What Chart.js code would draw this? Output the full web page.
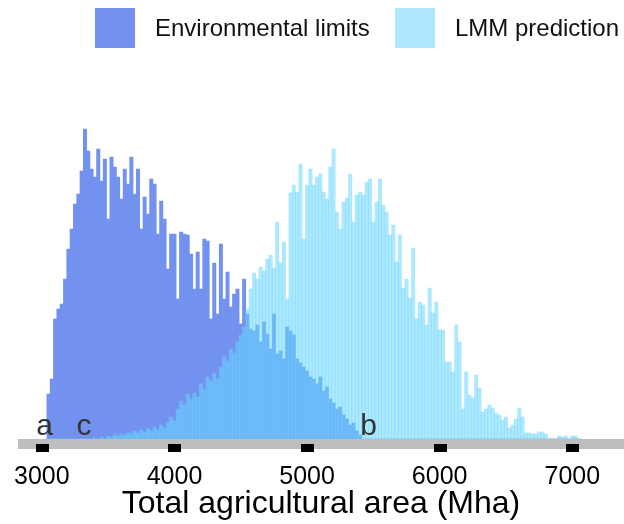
<!DOCTYPE html>
<html>
<head>
<meta charset="utf-8">
<title>Total agricultural area</title>
<script src="https://cdn.jsdelivr.net/npm/chart.js@4.4.1/dist/chart.umd.min.js"></script>
<style>
  html, body { margin: 0; padding: 0; background: #fff; }
  #wrap { position: relative; width: 624px; height: 524px; font-family: 'Liberation Sans', Arial, sans-serif; }
  #area-chart { position: absolute; left: 0; top: 0; }
  .key { position: absolute; top: 8px; width: 40px; height: 40px; }
  .key-label { position: absolute; top: 8px; line-height: 40px; font-size: 24px; color: #111; white-space: nowrap; }
</style>
</head>
<body>
<div id="wrap">
  <canvas id="area-chart" width="624" height="524"></canvas>
  <div id="legend"></div>
</div>
<script>
/*
 * Histogram bins are 25 Mha wide, the first one centred on 3050 Mha
 */
const binStart = 3050
const binWidth = 25

// bar heights, one per bin
const envLimits = [
  45, 60, 120, 130, 135, 160, 190, 210, 235, 245,
  268, 310, 288, 270, 262, 290, 258, 280, 220, 282,
  272, 262, 240, 270, 255, 282, 245, 270, 210, 242,
  225, 260, 255, 205, 238, 220, 170, 205, 205, 140,
  207, 205, 204, 185, 150, 187, 150, 200, 198, 120,
  176, 125, 195, 140, 167, 132, 145, 150, 115, 160,
  125, 110, 108, 114, 97, 117, 105, 90, 125, 85,
  88, 80, 112, 108, 104, 80, 76, 72, 68, 62,
  60, 55, 62, 48, 52, 40, 36, 30, 32, 24,
  20, 14, 16, 8, 4, 0, 0, 0, 0, 0,
  0, 0, 0, 0, 0, 0, 0, 0, 0, 0,
  0, 0, 0, 0, 0, 0, 0, 0, 0, 0,
  0, 0, 0, 0, 0, 0, 0, 0, 0, 0,
  0, 0, 0, 0, 0, 0, 0, 0, 0, 0,
  0, 0, 0, 0, 0, 0, 0, 0, 0, 0,
  0, 0, 0, 0, 0, 0, 0, 0, 0, 0,
  0
]

const lmmPrediction = [
  0, 0, 0, 0, 0, 0, 0, 0, 0, 0,
  0, 0, 0, 0, 1, 0, 2, 0, 3, 2,
  4, 3, 5, 4, 6, 5, 8, 6, 9, 7,
  10, 8, 12, 9, 14, 11, 16, 22, 18, 30,
  38, 34, 45, 40, 46, 42, 55, 50, 62, 58,
  66, 60, 72, 82, 78, 90, 86, 97, 104, 112,
  130, 150, 166, 160, 172, 168, 180, 184, 171, 217,
  176, 197, 140, 246, 254, 247, 275, 200, 254, 270,
  254, 262, 265, 247, 240, 272, 290, 227, 210, 237,
  241, 265, 217, 244, 247, 244, 257, 260, 217, 237,
  260, 234, 227, 204, 214, 177, 204, 151, 160, 141,
  191, 120, 137, 134, 114, 151, 126, 137, 109, 109,
  77, 77, 67, 114, 97, 30, 67, 44, 41, 64,
  51, 27, 30, 34, 31, 26, 24, 19, 22, 11,
  14, 20, 31, 22, 6, 6, 5, 5, 7, 7,
  5, 0, 0, 0, 3, 2, 3, 0, 3, 3,
  0
]

const tickValues = [3000, 4000, 5000, 6000, 7000]

// letters written just above the axis
const markers = ['a', 'c', 'b']
const markerValues = [3020, 3317, 5464]

const fontFamily = "'Liberation Sans', Arial, sans-serif"

const toPoints = values => values.map((v, i) => ({ x: binStart + i * binWidth, y: v }))

/**
 * Grey axis band, black tick blocks and the a/b/c letters
 **/
const axisBand = {
  id: 'axisBand',
  afterDatasetsDraw(chart) {
    const { ctx, chartArea, scales } = chart
    const x = scales.x
    ctx.save()
    ctx.fillStyle = '#bebebe'
    ctx.fillRect(chartArea.left, chartArea.bottom, chartArea.right - chartArea.left, 10)
    ctx.fillStyle = '#000'
    tickValues.forEach(v => {
      const px = Math.round(x.getPixelForValue(v))
      ctx.fillRect(px - 6, chartArea.bottom + 5, 13, 8)
    })
    ctx.fillStyle = '#333'
    ctx.font = '30px ' + fontFamily
    ctx.textAlign = 'center'
    ctx.textBaseline = 'alphabetic'
    markers.forEach((m, i) => {
      ctx.fillText(m, x.getPixelForValue(markerValues[i]), chartArea.bottom - 4)
    })
    ctx.restore()
  }
}

const areaCtx = document.getElementById('area-chart').getContext('2d')

const areaChart = new Chart(areaCtx, {
  type: 'bar',
  data: {
    datasets: [{
      label: 'Environmental limits',
      data: toPoints(envLimits),
      backgroundColor: '#7392f0',
      legendColor: '#7392f0',
      order: 2,
      grouped: false,
      barPercentage: 1,
      categoryPercentage: 1
    }, {
      label: 'LMM prediction',
      data: toPoints(lmmPrediction),
      backgroundColor: 'rgba(104, 213, 255, 0.55)',
      legendColor: '#ace8ff',
      order: 1,
      grouped: false,
      barPercentage: 1,
      categoryPercentage: 1
    }]
  },
  options: {
    responsive: false,
    animation: false,
    layout: {
      padding: { top: 60, left: 18, right: 0, bottom: 0 }
    },
    plugins: {
      legend: { display: false },
      tooltip: { enabled: false }
    },
    scales: {
      x: {
        type: 'linear',
        min: 2820,
        max: 7390,
        offset: false,
        grid: { display: false },
        border: { display: false },
        afterBuildTicks: scale => {
          scale.ticks = tickValues.map(v => ({ value: v }))
        },
        afterFit: scale => {
          scale.height = 85
          scale.paddingLeft = 0
          scale.paddingRight = 0
        },
        ticks: {
          color: '#000',
          padding: 15,
          maxRotation: 0,
          autoSkip: false,
          font: { size: 25, family: fontFamily },
          callback: v => String(v)
        },
        title: {
          display: true,
          text: 'Total agricultural area (Mha)',
          color: '#000',
          padding: { top: 0, bottom: 1 },
          font: { size: 32, family: fontFamily }
        }
      },
      y: {
        display: false,
        min: 0,
        max: 379
      }
    }
  },
  plugins: [axisBand]
})

/*
 * Legend built from the datasets, placed like the original
 */
const legendSpots = [95, 395]
const legendBox = document.getElementById('legend')
areaChart.data.datasets.forEach((ds, i) => {
  const key = document.createElement('div')
  key.className = 'key'
  key.style.left = legendSpots[i] + 'px'
  key.style.background = ds.legendColor
  const label = document.createElement('div')
  label.className = 'key-label'
  label.style.left = (legendSpots[i] + 60) + 'px'
  label.textContent = ds.label
  legendBox.appendChild(key)
  legendBox.appendChild(label)
})
</script>
</body>
</html>
